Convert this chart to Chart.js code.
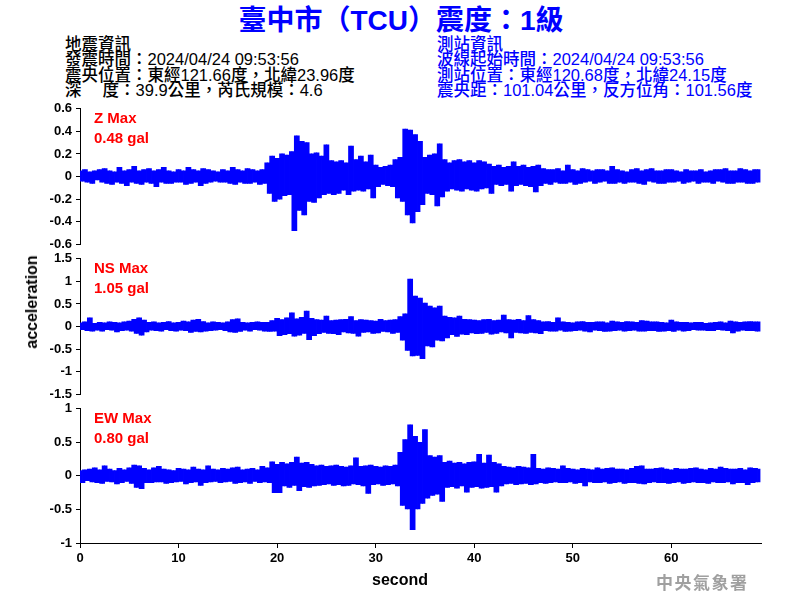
<!DOCTYPE html>
<html>
<head>
<meta charset="utf-8">
<script src="https://cdn.jsdelivr.net/npm/chart.js@4.4.1/dist/chart.umd.min.js"></script>
<style>
  html, body { margin: 0; padding: 0; background: #fff; }
  #page { position: relative; width: 800px; height: 600px; overflow: hidden; font-family: "Liberation Sans", Arial, "Noto Sans CJK TC", sans-serif; }
  canvas { position: absolute; left: 0; }
  .title { position: absolute; left: 0; top: 5px; width: 802px; text-align: center; color: #0000ff; font-size: 28px; font-weight: bold; line-height: 32px; }
  .info { position: absolute; top: 36.5px; font-size: 16.5px; font-weight: 500; line-height: 15.6px; white-space: nowrap; }
  .maxlbl { position: absolute; left: 94px; color: #ff0000; font-size: 15px; font-weight: bold; line-height: 20px; }
  .axtitle { position: absolute; font-size: 16px; font-weight: bold; color: #000; white-space: nowrap; }
  .mark { position: absolute; left: 656px; top: 569px; font-size: 17px; font-weight: bold; letter-spacing: 1.5px; color: #a0a0a0; font-family: "Noto Sans CJK TC", sans-serif; }
</style>
</head>
<body>
<div id="page">
  <div class="title">臺中市（TCU）震度：1級</div>
  <div class="info" style="left:65px;color:#000">地震資訊<br>發震時間：2024/04/24 09:53:56<br>震央位置：東經121.66度，北緯23.96度<br>深　 度：39.9公里，芮氏規模：4.6</div>
  <div class="info" style="left:437px;color:#0000ff">測站資訊<br>波線起始時間：2024/04/24 09:53:56<br>測站位置：東經120.68度，北緯24.15度<br>震央距：101.04公里，反方位角：101.56度</div>

  <canvas id="zChart" width="800" height="159" style="top:97px"></canvas>
  <canvas id="nsChart" width="800" height="159" style="top:247px"></canvas>
  <canvas id="ewChart" width="800" height="203" style="top:397px"></canvas>

  <div class="maxlbl" style="top:108px">Z Max<br>0.48 gal</div>
  <div class="maxlbl" style="top:258px">NS Max<br>1.05 gal</div>
  <div class="maxlbl" style="top:408px">EW Max<br>0.80 gal</div>

  <div class="axtitle" style="left:32px;top:302px;transform:translate(-50%,-50%) rotate(-90deg)">acceleration</div>
  <div class="axtitle" style="left:400px;top:571px;transform:translateX(-50%)">second</div>
  <div class="mark">中央氣象署</div>
</div>

<script>
// Intervalo entre amostras (s) e eixo do tempo
const SAMPLE_STEP = 0.25;
const X_MAX = 69.1;
const xTicks = [0, 10, 20, 30, 40, 50, 60];

// Ticks de cada componente
const zTicks = [-0.6, -0.4, -0.2, 0, 0.2, 0.4, 0.6];
const nsTicks = [-1.5, -1, -0.5, 0, 0.5, 1, 1.5];
const ewTicks = [-1, -0.5, 0, 0.5, 1];

// Componente vertical (Z), gal
const zTrace = [
  0.05,-0.04,0.06,-0.05, 0.04,-0.06,0.05,-0.03, 0.06,-0.05,0.07,-0.06, 0.05,-0.07,0.04,-0.05, 0.08,-0.06,0.05,-0.08,
  0.06,-0.05,0.09,-0.06, 0.05,-0.07,0.06,-0.05, 0.07,-0.06,0.05,-0.09, 0.06,-0.05,0.08,-0.06, 0.05,-0.06,0.04,-0.05,
  0.06,-0.05,0.05,-0.07, 0.08,-0.06,0.06,-0.05, 0.05,-0.08,0.07,-0.06, 0.06,-0.05,0.05,-0.04, 0.04,-0.05,0.06,-0.05,
  0.05,-0.06,0.08,-0.07, 0.06,-0.05,0.05,-0.06, 0.07,-0.06,0.06,-0.05, 0.05,-0.07,0.06,-0.06, 0.12,-0.15,0.18,-0.22,
  0.16,-0.2,0.2,-0.17, 0.19,-0.16,0.22,-0.48, 0.36,-0.3,0.31,-0.34, 0.3,-0.22,0.2,-0.23, 0.21,-0.19,0.18,-0.16,
  0.28,-0.15,0.14,-0.16, 0.13,-0.15,0.14,-0.12, 0.12,-0.16,0.27,-0.13, 0.15,-0.12,0.18,-0.13, 0.13,-0.11,0.19,-0.19,
  0.1,-0.09,0.08,-0.07, 0.09,-0.08,0.1,-0.09, 0.15,-0.19,0.17,-0.22, 0.42,-0.34,0.41,-0.41, 0.37,-0.31,0.31,-0.25,
  0.17,-0.15,0.19,-0.16, 0.2,-0.26,0.29,-0.18, 0.15,-0.13,0.12,-0.11, 0.14,-0.12,0.15,-0.13, 0.13,-0.11,0.14,-0.12,
  0.12,-0.13,0.14,-0.11, 0.13,-0.1,0.11,-0.15, 0.09,-0.07,0.1,-0.08, 0.08,-0.07,0.09,-0.13, 0.13,-0.08,0.09,-0.07,
  0.1,-0.08,0.08,-0.09, 0.09,-0.135,0.1,-0.08, 0.07,-0.06,0.06,-0.07, 0.06,-0.05,0.07,-0.06, 0.05,-0.06,0.1,-0.05,
  0.06,-0.07,0.05,-0.06, 0.07,-0.05,0.06,-0.04, 0.05,-0.06,0.06,-0.05, 0.06,-0.04,0.05,-0.06, 0.09,-0.06,0.06,-0.05,
  0.05,-0.06,0.04,-0.05, 0.06,-0.05,0.07,-0.06, 0.05,-0.07,0.06,-0.04, 0.07,-0.05,0.05,-0.06, 0.05,-0.06,0.06,-0.05,
  0.06,-0.05,0.05,-0.04, 0.04,-0.06,0.06,-0.05, 0.05,-0.04,0.05,-0.06, 0.06,-0.05,0.04,-0.05, 0.05,-0.06,0.06,-0.04,
  0.06,-0.05,0.07,-0.06, 0.05,-0.06,0.05,-0.05, 0.07,-0.05,0.06,-0.06, 0.05,-0.06,0.06,-0.05, 0.06
];

// Componente norte-sul (NS)
const nsTrace = [
  0.08,-0.07,0.1,-0.09, 0.19,-0.1,0.07,-0.08, 0.09,-0.1,0.08,-0.07, 0.1,-0.08,0.09,-0.12, 0.08,-0.09,0.1,-0.08,
  0.12,-0.1,0.16,-0.15, 0.19,-0.19,0.14,-0.12, 0.09,-0.08,0.1,-0.09, 0.08,-0.1,0.09,-0.07, 0.11,-0.09,0.08,-0.1,
  0.09,-0.08,0.12,-0.09, 0.1,-0.13,0.14,-0.11, 0.16,-0.12,0.11,-0.1, 0.08,-0.09,0.1,-0.08, 0.09,-0.07,0.08,-0.09,
  0.1,-0.12,0.15,-0.13, 0.17,-0.11,0.09,-0.08, 0.08,-0.1,0.09,-0.07, 0.1,-0.08,0.09,-0.1, 0.09,-0.11,0.13,-0.1,
  0.18,-0.2,0.15,-0.18, 0.19,-0.16,0.3,-0.21, 0.17,-0.19,0.2,-0.15, 0.34,-0.29,0.18,-0.2, 0.15,-0.16,0.14,-0.13,
  0.23,-0.15,0.13,-0.16, 0.14,-0.18,0.15,-0.12, 0.16,-0.14,0.22,-0.15, 0.13,-0.21,0.15,-0.13, 0.14,-0.12,0.13,-0.15,
  0.12,-0.14,0.16,-0.11, 0.13,-0.12,0.14,-0.15, 0.15,-0.13,0.22,-0.3, 0.28,-0.53,1.05,-0.65, 0.67,-0.64,0.63,-0.71,
  0.52,-0.43,0.45,-0.45, 0.41,-0.3,0.45,-0.32, 0.23,-0.25,0.2,-0.18, 0.19,-0.22,0.23,-0.17, 0.16,-0.18,0.15,-0.14,
  0.14,-0.16,0.13,-0.15, 0.15,-0.13,0.16,-0.17, 0.13,-0.15,0.14,-0.12, 0.25,-0.14,0.15,-0.25, 0.14,-0.13,0.16,-0.14,
  0.13,-0.15,0.24,-0.13, 0.15,-0.14,0.13,-0.16, 0.1,-0.09,0.11,-0.1, 0.09,-0.1,0.19,-0.08, 0.1,-0.11,0.09,-0.1,
  0.08,-0.09,0.1,-0.08, 0.11,-0.1,0.09,-0.12, 0.09,-0.08,0.1,-0.09, 0.1,-0.11,0.08,-0.1, 0.12,-0.09,0.1,-0.08,
  0.09,-0.1,0.11,-0.09, 0.1,-0.08,0.09,-0.1, 0.13,-0.1,0.12,-0.09, 0.1,-0.09,0.1,-0.11, 0.09,-0.1,0.08,-0.09,
  0.14,-0.11,0.1,-0.08, 0.09,-0.1,0.09,-0.09, 0.08,-0.07,0.09,-0.08, 0.09,-0.08,0.07,-0.09, 0.08,-0.09,0.09,-0.07,
  0.1,-0.08,0.08,-0.09, 0.12,-0.14,0.1,-0.1, 0.09,-0.08,0.1,-0.09, 0.11,-0.09,0.1,-0.1, 0.1
];

// Componente leste-oeste (EW)
const ewTrace = [
  0.08,-0.1,0.09,-0.07, 0.1,-0.09,0.12,-0.1, 0.09,-0.11,0.15,-0.08, 0.1,-0.09,0.08,-0.12, 0.11,-0.1,0.09,-0.08,
  0.12,-0.11,0.16,-0.17, 0.15,-0.19,0.11,-0.1, 0.09,-0.1,0.12,-0.09, 0.14,-0.09,0.1,-0.11, 0.09,-0.1,0.08,-0.09,
  0.11,-0.08,0.1,-0.12, 0.09,-0.1,0.13,-0.09, 0.1,-0.14,0.09,-0.1, 0.15,-0.09,0.1,-0.08, 0.09,-0.1,0.11,-0.09,
  0.1,-0.08,0.12,-0.11, 0.13,-0.1,0.09,-0.09, 0.1,-0.11,0.11,-0.08, 0.09,-0.1,0.14,-0.09, 0.12,-0.1,0.21,-0.25,
  0.17,-0.25,0.2,-0.15, 0.18,-0.17,0.2,-0.14, 0.28,-0.22,0.19,-0.16, 0.2,-0.17,0.17,-0.15, 0.15,-0.14,0.16,-0.13,
  0.14,-0.12,0.15,-0.14, 0.16,-0.13,0.14,-0.15, 0.13,-0.14,0.15,-0.12, 0.27,-0.13,0.14,-0.15, 0.15,-0.26,0.16,-0.13,
  0.14,-0.12,0.13,-0.14, 0.15,-0.13,0.14,-0.12, 0.16,-0.15,0.35,-0.44, 0.54,-0.49,0.76,-0.8, 0.59,-0.49,0.5,-0.41,
  0.69,-0.33,0.3,-0.29, 0.28,-0.27,0.3,-0.38, 0.2,-0.17,0.22,-0.16, 0.19,-0.18,0.2,-0.15, 0.18,-0.24,0.2,-0.17,
  0.21,-0.16,0.32,-0.18, 0.19,-0.17,0.31,-0.16, 0.2,-0.24,0.18,-0.15, 0.14,-0.12,0.13,-0.11, 0.12,-0.13,0.14,-0.12,
  0.13,-0.11,0.12,-0.13, 0.32,-0.12,0.11,-0.1, 0.1,-0.11,0.12,-0.1, 0.11,-0.09,0.1,-0.1, 0.15,-0.1,0.11,-0.09,
  0.1,-0.11,0.09,-0.1, 0.11,-0.15,0.1,-0.09, 0.09,-0.1,0.12,-0.1, 0.1,-0.09,0.11,-0.11, 0.12,-0.1,0.1,-0.09,
  0.1,-0.11,0.09,-0.1, 0.11,-0.1,0.14,-0.11, 0.15,-0.12,0.1,-0.1, 0.1,-0.09,0.11,-0.1, 0.12,-0.1,0.1,-0.11,
  0.09,-0.1,0.11,-0.09, 0.1,-0.11,0.1,-0.1, 0.11,-0.09,0.12,-0.1, 0.1,-0.1,0.09,-0.11, 0.11,-0.09,0.1,-0.1,
  0.13,-0.1,0.11,-0.09, 0.1,-0.12,0.1,-0.1, 0.11,-0.1,0.09,-0.13, 0.12,-0.1,0.11,-0.09, 0.1
];

document.addEventListener('DOMContentLoaded', () => {
    if (typeof Chart === 'undefined') {
        console.error("Chart.js não carregado.");
        return;
    }

    Chart.defaults.color = '#000';
    Chart.defaults.font.family = '"Liberation Sans", Arial, sans-serif';

    const tickFont = { size: 13, weight: 'bold' };

    function makePanel(canvasId, trace, yTicks, showX) {
        // cada barra liga uma amostra à seguinte (traço vertical cheio, como no sismograma)
        const bars = [];
        for (let i = 0; i < trace.length - 1; i++) {
            bars.push({ x: (i + 0.5) * SAMPLE_STEP, y: [trace[i], trace[i + 1]] });
        }
        return new Chart(document.getElementById(canvasId).getContext('2d'), {
            type: 'bar',
            data: {
                datasets: [{
                    data: bars,
                    backgroundColor: '#0000ff',
                    borderWidth: 0,
                    barPercentage: 1,
                    categoryPercentage: 1,
                    inflateAmount: 0.4
                }]
            },
            options: {
                responsive: false,
                animation: false,
                events: [],
                layout: { padding: { left: 0, right: 39, top: 10, bottom: showX ? 0 : 10 } },
                plugins: { legend: { display: false }, tooltip: { enabled: false } },
                scales: {
                    x: {
                        type: 'linear',
                        display: showX,
                        offset: false,
                        min: 0,
                        max: X_MAX,
                        afterBuildTicks: (axis) => { axis.ticks = xTicks.map(v => ({ value: v })); },
                        afterFit: (axis) => { if (showX) axis.height = 57; },
                        grid: { drawOnChartArea: false, offset: false, tickLength: 5, color: '#000' },
                        border: { color: '#000', width: 1 },
                        ticks: { font: tickFont, padding: 3, maxRotation: 0 }
                    },
                    y: {
                        min: yTicks[0],
                        max: yTicks[yTicks.length - 1],
                        afterBuildTicks: (axis) => { axis.ticks = yTicks.map(v => ({ value: v })); },
                        afterFit: (axis) => { axis.width = 80; },
                        grid: { drawOnChartArea: false, tickLength: 4, color: '#000' },
                        border: { color: '#000', width: 1 },
                        ticks: { font: tickFont, padding: 4, autoSkip: false, callback: (v) => String(v) }
                    }
                }
            }
        });
    }

    makePanel('zChart', zTrace, zTicks, false);
    makePanel('nsChart', nsTrace, nsTicks, false);
    makePanel('ewChart', ewTrace, ewTicks, true);
});
</script>
</body>
</html>
